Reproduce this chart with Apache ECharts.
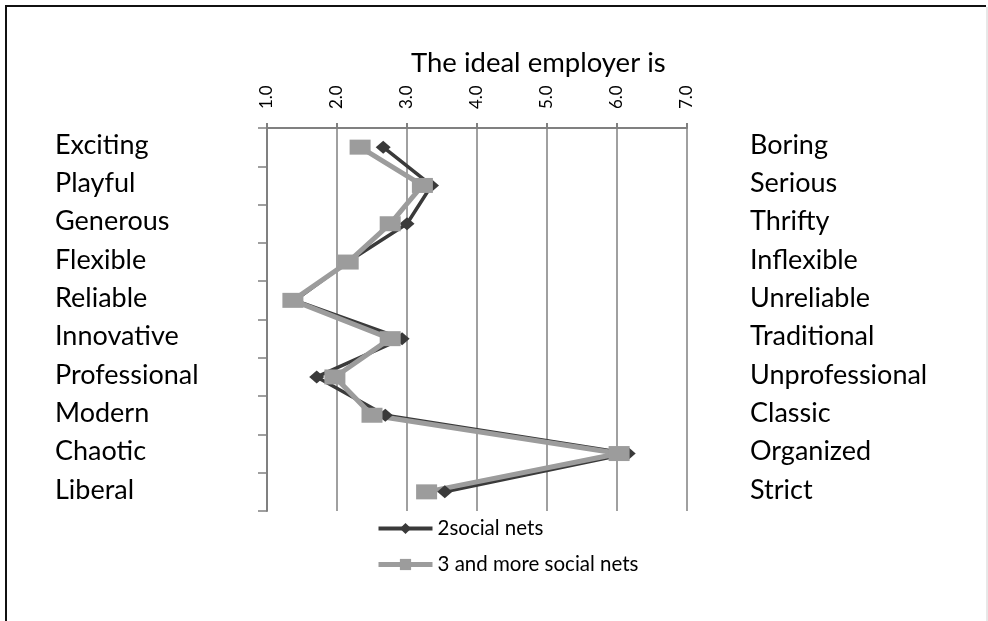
<!DOCTYPE html>
<html>
<head>
<meta charset="utf-8">
<script src="https://cdn.jsdelivr.net/npm/echarts@6/dist/echarts.min.js"></script>
<style>
html,body{margin:0;padding:0;background:#fff;}
#chart{width:988px;height:621px;}
</style>
</head>
<body>
<div id="chart"></div>
<script>
const leftLabels = ['Exciting','Playful','Generous','Flexible','Reliable','Innovative','Professional','Modern','Chaotic','Liberal'];
const rightLabels = ['Boring','Serious','Thrifty','Inflexible','Unreliable','Traditional','Unprofessional','Classic','Organized','Strict'];
const seriesNames = ['2social nets','3 and more social nets'];
const twoNets = [2.66, 3.35, 3.0, 2.15, 1.4, 2.93, 1.71, 2.69, 6.16, 3.54];
const threeNets = [2.33, 3.22, 2.76, 2.16, 1.37, 2.76, 1.97, 2.5, 6.03, 3.28];

const FONT = 'Lato';
const sideLabel = {
  fontSize: 27, color: '#000', fontFamily: FONT,
  interval: 0, showMinLabel: true, showMaxLabel: true, hideOverlap: false,
  formatter: v => '{a|' + v + '}\n{s|}',
  rich: {
    a: {fontSize: 27, lineHeight: 30, fontFamily: FONT, color: '#000'},
    s: {height: 4, lineHeight: 4}
  }
};
const chart = echarts.init(document.getElementById('chart'));
chart.setOption({
  backgroundColor: '#fff',
  animation: false,
  title: {
    text: 'The ideal employer is',
    left: 406, top: 44,
    textStyle: {fontSize: 27.5, fontWeight: 'normal', color: '#000', fontFamily: FONT}
  },
  legend: {
    orient: 'vertical',
    left: 376, top: 518, padding: 0,
    itemWidth: 54, itemHeight: 14, itemGap: 15,
    textStyle: {fontSize: 20.5, color: '#000', fontFamily: FONT},
    data: [
      {name: seriesNames[0], lineStyle: {width: 4, color: '#3a3a3a'}},
      {name: seriesNames[1], lineStyle: {width: 5, color: '#9c9c9c'}}
    ]
  },
  grid: {left: 267, right: 301, top: 128, bottom: 110, containLabel: false},
  xAxis: {
    type: 'value', position: 'top', min: 1, max: 7, interval: 1,
    axisLine: {show: true, lineStyle: {color: '#808080', width: 2}},
    axisTick: {show: true, length: 5, lineStyle: {color: '#808080', width: 2}},
    splitLine: {show: true, lineStyle: {color: '#808080', width: 1.5}},
    axisLabel: {rotate: -90, margin: 19, fontSize: 17, color: '#000', fontFamily: FONT,
      formatter: v => v.toFixed(1)}
  },
  yAxis: [{
    type: 'category', data: leftLabels, inverse: true, position: 'left',
    axisLine: {show: true, lineStyle: {color: '#808080', width: 2}},
    axisTick: {show: true, length: 9, lineStyle: {color: '#808080', width: 1.5}},
    axisLabel: Object.assign({align: 'left', margin: 212}, sideLabel)
  }, {
    type: 'category', data: rightLabels, inverse: true, position: 'right',
    axisLine: {show: false}, axisTick: {show: false}, splitLine: {show: false},
    axisLabel: Object.assign({align: 'left', margin: 63}, sideLabel)
  }],
  series: [{
    name: seriesNames[0], type: 'line', yAxisIndex: 0, data: twoNets,
    symbol: 'diamond', symbolSize: [15, 13],
    lineStyle: {color: '#3a3a3a', width: 3.5},
    itemStyle: {color: '#3a3a3a'}
  }, {
    name: seriesNames[1], type: 'line', yAxisIndex: 0, data: threeNets,
    symbol: 'rect', symbolSize: [21, 15],
    lineStyle: {color: '#9c9c9c', width: 5},
    itemStyle: {color: '#9c9c9c'}
  }],
  graphic: [{
    type: 'polyline', silent: true,
    shape: {points: [[6, 621], [6, 6], [986, 6]]},
    style: {stroke: '#111', lineWidth: 2, fill: null}
  }, {
    type: 'line', silent: true,
    shape: {x1: 987, y1: 7, x2: 987, y2: 621},
    style: {stroke: '#d0d0d0', lineWidth: 1}
  }]
});
</script>
</body>
</html>
